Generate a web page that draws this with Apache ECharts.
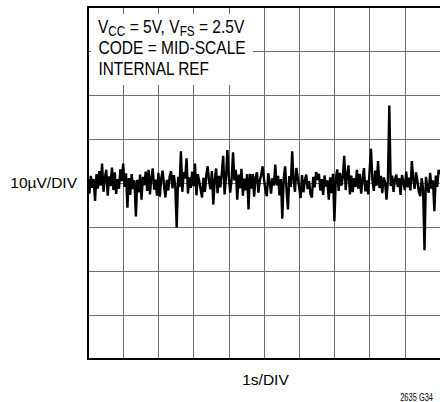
<!DOCTYPE html>
<html>
<head>
<meta charset="utf-8">
<script src="https://cdn.jsdelivr.net/npm/echarts@6/dist/echarts.min.js"></script>
<style>
html,body{margin:0;padding:0;background:#fff;}
#c{width:440px;height:402px;}
</style>
</head>
<body>
<div id="c"></div>
<script>
// Output noise trace, µV deviation from mid-scale, one sample every 0.04 s
const noiseUV = [
  0.8, -2.4, 1.6, -1.1, 0.9, -4.1, 2.0, -1.3, 2.7, -0.6,
  4.4, -2.0, 1.2, 3.0, -2.9, 1.5, -0.7, 3.5, -1.6, 2.4,
  -2.5, 0.9, -1.3, 3.1, 0.4, 4.4, -0.9, 2.2, -5.6, 1.1,
  -2.7, 2.0, -1.4, 0.6, -7.6, 0.7, -2.1, 1.9, -3.8, 1.4,
  -0.5, 2.6, -1.8, 3.0, -2.6, 1.2, 3.3, -1.5, 0.8, -2.9,
  2.3, -3.1, 1.0, 2.8, -0.6, -3.3, 0.7, -1.7, 1.5, 2.7,
  -1.2, 1.8, -0.8, -10.1, 1.4, -0.9, 7.2, -2.0, 2.5, 1.0,
  5.6, -2.4, 1.3, -1.1, 2.6, -0.7, 4.4, -2.8, 2.0, 0.4,
  -1.5, -3.3, 1.2, -2.0, 1.6, 3.8, 0.3, -1.4, 2.7, -4.9,
  0.7, 3.3, -2.3, 1.6, -1.0, 2.1, 6.2, -2.6, 1.2, 7.5,
  1.4, -2.2, 0.8, 7.0, 0.6, 3.0, -3.8, 1.9, -1.2, 3.2,
  -2.9, 1.0, -1.7, 2.0, -6.0, 2.1, -1.3, 2.0, -3.1, 1.3,
  2.4, -2.2, 0.5, 1.8, 3.8, 0.9, -1.6, -3.0, 2.2, 0.3,
  -2.4, 1.1, -0.6, 4.2, -0.5, 1.6, -2.8, 0.9, -8.1, 1.1,
  3.8, -1.5, -6.0, 1.6, -0.9, 7.2, 0.7, -2.0, 3.4, 1.2,
  -1.1, -3.4, 1.8, -2.1, 0.6, 1.9, -1.4, 0.4, -2.5, -3.3,
  1.4, -1.0, 2.5, 0.7, 2.1, -1.7, 0.9, -2.7, 1.7, -0.8,
  0.6, -3.8, 1.3, -2.3, 2.1, -8.7, 1.0, 3.1, -1.8, 2.3,
  -0.6, 1.4, 6.2, -1.6, 1.9, 4.0, -2.6, 1.7, -2.1, 1.1,
  -0.9, 3.0, -1.3, 2.1, -2.4, 0.9, 3.4, -1.9, 0.6, -2.6,
  2.8, 7.8, 0.7, -1.8, 2.8, -0.6, 5.0, -1.1, 1.6, -2.3,
  1.3, 0.2, -3.8, 0.6, 17.6, -0.7, 1.7, -2.0, 0.8, 1.9,
  -0.9, 1.1, -2.7, 1.8, 0.3, -1.6, 2.6, -1.0, 1.2, -1.7,
  5.0, 0.9, -1.3, 2.4, 0.4, -2.1, -3.0, 1.1, -1.4, -15.3,
  1.4, -0.8, -2.2, 2.3, -1.3, 0.6, -6.4, 1.7, -0.9, 3.0,
  2.0
];
const sampleStepS = 0.04;

// Axis scales (1 s/div horizontally, 10 µV/div vertically)
const timeRangeS = [0, 10];
const timeDivS = 1;
const voltRangeUV = [-40, 40];
const voltDivUV = 10;

// Texts
const conditionLines = ['V{s|CC} = 5V, V{s|FS} = 2.5V', 'CODE = MID-SCALE', 'INTERNAL REF'];
const yAxisTitle = '10µV/DIV';
const xAxisTitle = '1s/DIV';
const figureId = '2635 G34';

const FONT = "'Liberation Sans', Arial, Helvetica, sans-serif";
const GRIDC = '#6e6e6e';

const chart = echarts.init(document.getElementById('c'), null, {renderer: 'svg', width: 440, height: 402});

const traceData = noiseUV.map((v, i) => [i * sampleStepS, v]);

const hiddenAxisBits = {axisTick: {show: false}, axisLabel: {show: false}};

chart.setOption({
  animation: false,
  backgroundColor: '#fff',
  grid: {left: 88, top: 7, width: 352, height: 352, containLabel: false},
  xAxis: [
    Object.assign({
      type: 'value', position: 'bottom', min: timeRangeS[0], max: timeRangeS[1], interval: timeDivS,
      axisLine: {show: true, onZero: false, lineStyle: {color: '#000', width: 2}},
      splitLine: {show: true, showMinLine: false, showMaxLine: false, lineStyle: {color: GRIDC, width: 1}}
    }, hiddenAxisBits),
    Object.assign({
      type: 'value', position: 'top', min: timeRangeS[0], max: timeRangeS[1], interval: timeDivS,
      axisLine: {show: true, onZero: false, lineStyle: {color: '#000', width: 2}},
      splitLine: {show: false}
    }, hiddenAxisBits)
  ],
  yAxis: Object.assign({
    type: 'value', min: voltRangeUV[0], max: voltRangeUV[1], interval: voltDivUV,
    axisLine: {show: true, onZero: false, lineStyle: {color: '#000', width: 2}},
    splitLine: {show: true, showMinLine: false, showMaxLine: false, lineStyle: {color: GRIDC, width: 1}}
  }, hiddenAxisBits),
  series: [{
    type: 'line',
    xAxisIndex: 0,
    data: traceData,
    showSymbol: false,
    symbol: 'none',
    smooth: false,
    lineStyle: {color: '#000', width: 2.4, join: 'miter'},
    z: 5
  }],
  graphic: {
    elements: [
      {type: 'rect', z: 100, shape: {x: 91, y: 14, width: 162, height: 71}, style: {fill: '#fff'}},
      {type: 'text', z: 101, x: 98, y: 27.3, scaleX: 0.84, style: {
        text: conditionLines[0], fill: '#000', fontFamily: FONT, fontSize: 18.5, lineHeight: 22.5,
        align: 'left', verticalAlign: 'middle',
        rich: {s: {fontFamily: FONT, fontSize: 14, lineHeight: 12, verticalAlign: 'bottom', fill: '#000'}}
      }},
      {type: 'text', z: 101, x: 98.5, y: 48, scaleX: 0.84, style: {
        text: conditionLines[1], fill: '#000', fontFamily: FONT, fontSize: 18.5,
        align: 'left', verticalAlign: 'middle'
      }},
      {type: 'text', z: 101, x: 98.5, y: 69.3, scaleX: 0.83, style: {
        text: conditionLines[2], fill: '#000', fontFamily: FONT, fontSize: 18.5,
        align: 'left', verticalAlign: 'middle'
      }},
      {type: 'text', z: 101, x: 77, y: 182.3, style: {
        text: yAxisTitle, fill: '#000', fontFamily: FONT, fontSize: 15.5,
        align: 'right', verticalAlign: 'middle'
      }},
      {type: 'text', z: 101, x: 265.5, y: 379.3, style: {
        text: xAxisTitle, fill: '#000', fontFamily: FONT, fontSize: 15.5,
        align: 'center', verticalAlign: 'middle'
      }},
      {type: 'text', z: 101, x: 433, y: 396.8, scaleX: 0.68, style: {
        text: figureId, fill: '#000', fontFamily: FONT, fontSize: 11, lineHeight: 9,
        align: 'right', verticalAlign: 'middle'
      }}
    ]
  }
});
</script>
</body>
</html>
